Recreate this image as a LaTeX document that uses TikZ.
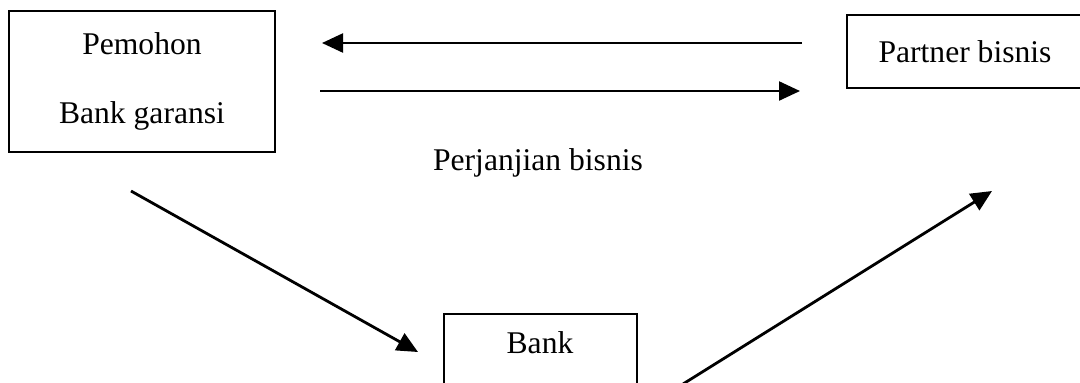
\documentclass[tikz,border=0pt]{standalone}
\usepackage{fontspec}
\setmainfont{Liberation Serif}
\usetikzlibrary{arrows.meta}
\begin{document}
\begin{tikzpicture}[x=0.5pt,y=-0.5pt,
  box/.style={draw, line width=0.8pt, inner sep=0pt, align=center,
    font=\fontsize{15.8}{34.5}\selectfont},
  lbl/.style={inner sep=0pt, font=\fontsize{15.8}{18}\selectfont},
  arr/.style={line width=1.15pt, -{Triangle[length=10.5pt,width=9.5pt]}},
  darr/.style={arr, line width=1.4pt}]
\useasboundingbox (0,0) rectangle (1080,382);
\clip (0,0) rectangle (1080,382);
\fill[white] (0,0) rectangle (1080,382);
% boxes
\node[box, minimum width=133pt, minimum height=70.5pt] (pem) at (142,81.5)
  {Pemohon\\Bank garansi};
\node[box, minimum width=118pt, minimum height=36.5pt] (partner) at (965,51.5)
  {Partner bisnis};
\node[box, minimum width=96.5pt, minimum height=50pt] (bank) at (540.5,364) {};
\node[lbl] (banktxt) at (540,343) {Bank};
\node[lbl] (perj) at (538,163) {Perjanjian bisnis};
% connector end points
\coordinate (a1s) at (802,43);
\coordinate (a1e) at (322,43);
\coordinate (a2s) at (320,91);
\coordinate (a2e) at (800,91);
\coordinate (d1s) at (131,191);
\coordinate (d1e) at (418,352);
\coordinate (d2s) at (683,384);
\coordinate (d2e) at (992,191);
% connectors
\draw[arr] (a1s) -- (a1e);
\draw[arr] (a2s) -- (a2e);
\draw[darr] (d1s) -- (d1e);
\draw[darr] (d2s) -- (d2e);
\end{tikzpicture}
\end{document}
